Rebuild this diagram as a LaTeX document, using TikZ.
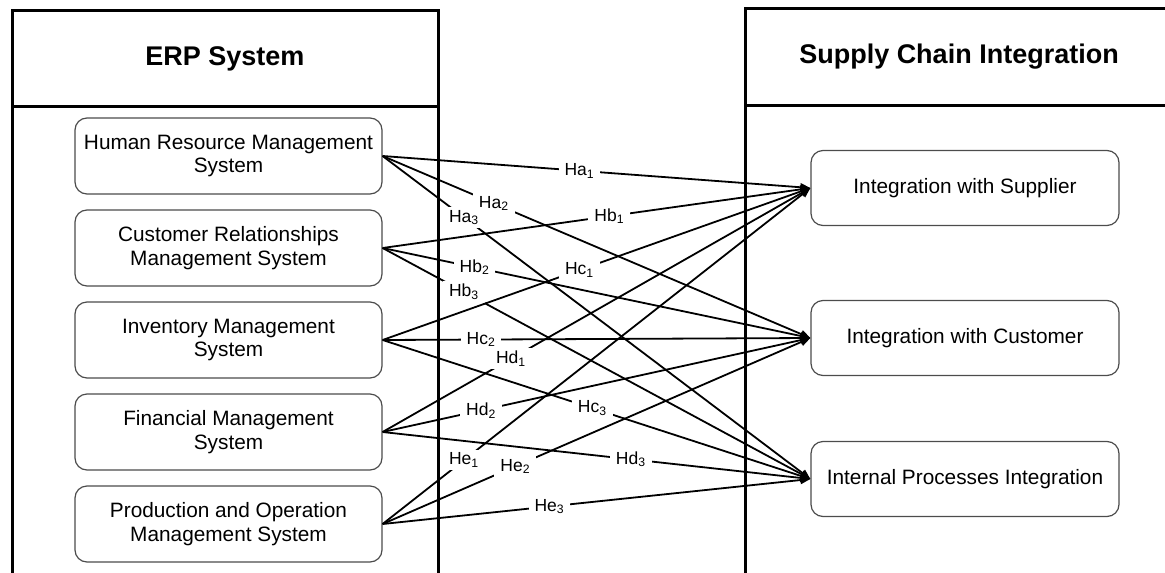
\documentclass[tikz,border=0pt]{standalone}
\usepackage{fontspec}
\setmainfont{Liberation Sans}
\usetikzlibrary{arrows.meta}
\begin{document}
\begin{tikzpicture}[x=1pt,y=-1pt,
  panel/.style={line width=3pt},
  hdr/.style={font=\bfseries\fontsize{27}{32}\selectfont, inner sep=0pt},
  sysbox/.style={draw=black!70, line width=1.2pt, rounded corners=12pt,
    minimum width=307pt, minimum height=76pt, align=center,
    font=\fontsize{20.8}{23.5}\selectfont, inner sep=0pt},
  goalbox/.style={sysbox, minimum width=308pt, minimum height=75pt},
  link/.style={line width=1.8pt, -{Triangle[length=10pt,width=8pt]}},
  lbl/.style={fill=white, inner xsep=6pt, inner ysep=3pt, font=\fontsize{17.5}{20}\selectfont},
]
\useasboundingbox (0,0) rectangle (1165,573);
% panels
\draw[panel] (12,575) -- (12,10) -- (438,10) -- (438,575);
\draw[panel] (12,106) -- (438,106);
\draw[panel] (745,575) -- (745,8) -- (1167,8);
\draw[panel] (745,105) -- (1167,105);
\node[hdr] (erp) at (225,59) {ERP System};
\node[hdr] (sci) at (959,57) {Supply Chain Integration};
% left boxes
\node[sysbox] (hrm) at (228.5,156) {Human Resource Management\\System};
\node[sysbox] (crm) at (228.5,248) {Customer Relationships\\Management System};
\node[sysbox] (inv) at (228.5,340) {Inventory Management\\System};
\node[sysbox] (fin) at (228.5,432) {Financial Management\\System};
\node[sysbox] (pom) at (228.5,524) {Production and Operation\\Management System};
% right boxes
\node[goalbox] (sup) at (965,188) {Integration with Supplier};
\node[goalbox] (cus) at (965,338) {Integration with Customer};
\node[goalbox] (ipi) at (965,479) {Internal Processes Integration};
% connectors
\draw[link] (hrm.east) -- node[lbl,pos=0.46]{Ha\textsubscript{1}} (sup.west);
\draw[link] (hrm.east) -- node[lbl,pos=0.26]{Ha\textsubscript{2}} (cus.west);
\draw[link] (hrm.east) -- node[lbl,pos=0.19]{Ha\textsubscript{3}} (ipi.west);
\draw[link] (crm.east) -- node[lbl,pos=0.53]{Hb\textsubscript{1}} (sup.west);
\draw[link] (crm.east) -- node[lbl,pos=0.215]{Hb\textsubscript{2}} (cus.west);
\draw[link] (crm.east) -- node[lbl,pos=0.19]{Hb\textsubscript{3}} (ipi.west);
\draw[link] (inv.east) -- node[lbl,pos=0.46]{Hc\textsubscript{1}} (sup.west);
\draw[link] (inv.east) -- node[lbl,pos=0.23]{Hc\textsubscript{2}} (cus.west);
\draw[link] (inv.east) -- node[lbl,pos=0.49]{Hc\textsubscript{3}} (ipi.west);
\draw[link] (fin.east) -- node[lbl,pos=0.30]{Hd\textsubscript{1}} (sup.west);
\draw[link] (fin.east) -- node[lbl,pos=0.23]{Hd\textsubscript{2}} (cus.west);
\draw[link] (fin.east) -- node[lbl,pos=0.58]{Hd\textsubscript{3}} (ipi.west);
\draw[link] (pom.east) -- node[lbl,pos=0.19]{He\textsubscript{1}} (sup.west);
\draw[link] (pom.east) -- node[lbl,pos=0.31]{He\textsubscript{2}} (cus.west);
\draw[link] (pom.east) -- node[lbl,pos=0.39]{He\textsubscript{3}} (ipi.west);
\end{tikzpicture}
\end{document}
